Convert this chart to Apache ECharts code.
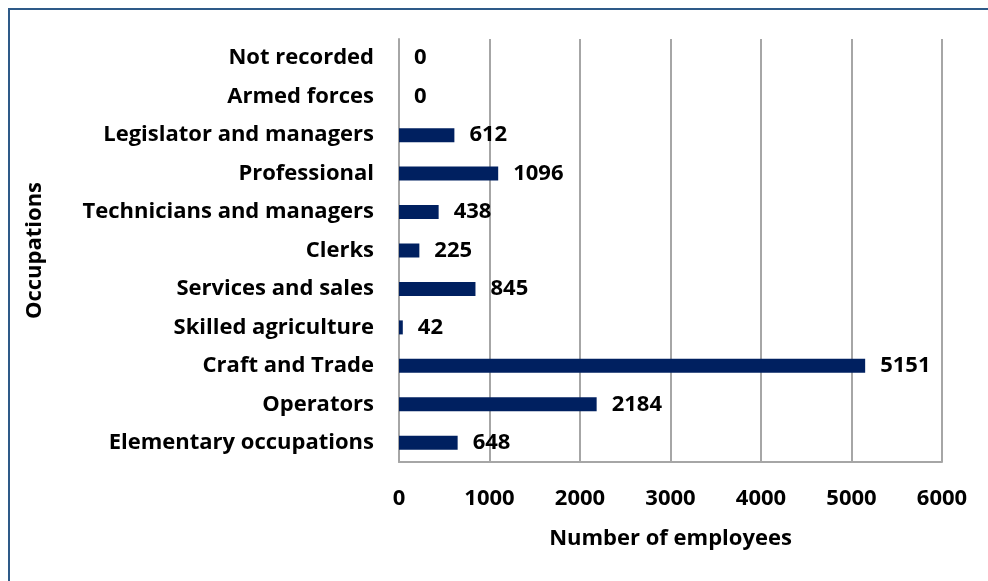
<!DOCTYPE html>
<html>
<head>
<meta charset="utf-8">
<script src="https://cdn.jsdelivr.net/npm/echarts@6/dist/echarts.min.js"></script>
<style>
  html, body { margin: 0; padding: 0; background: #fff; }
  #frame { position: absolute; left: 8px; top: 8px; width: 1200px; height: 800px;
           border-left: 2px solid #2e5a88; border-top: 2px solid #2e5a88; box-sizing: border-box; }
  #chart { position: absolute; left: 0; top: 0; width: 988px; height: 581px; }
</style>
</head>
<body>
<div id="frame"></div>
<div id="chart"></div>
<script>
// Occupations listed bottom-to-top as drawn on the category axis
const occupations = [
  'Elementary occupations', 'Operators', 'Craft and Trade', 'Skilled agriculture',
  'Services and sales', 'Clerks', 'Technicians and managers', 'Professional',
  'Legislator and managers', 'Armed forces', 'Not recorded'
];
const employees = [648, 2184, 5151, 42, 845, 225, 438, 1096, 612, 0, 0];
const xTicks = [0, 1000, 2000, 3000, 4000, 5000, 6000];

const FONT = 'Open Sans';
const SIZE = 22;
const text = { fontFamily: FONT, fontWeight: 'bold', fontSize: SIZE, color: '#000' };
const chart = echarts.init(document.getElementById('chart'), null, { renderer: 'canvas' });
chart.setOption({
  animation: false,
  backgroundColor: 'transparent',
  grid: { left: 399, right: 46, top: 39, bottom: 119, containLabel: false },
  xAxis: {
    type: 'value',
    min: xTicks[0], max: xTicks[xTicks.length - 1], interval: 1000,
    name: 'Number of employees', nameLocation: 'middle', nameGap: 66,
    nameTextStyle: text,
    axisLine: { show: true, lineStyle: { color: '#a6a6a6', width: 2 } },
    axisTick: { show: false },
    splitLine: { show: true, lineStyle: { color: '#a6a6a6', width: 2 } },
    axisLabel: Object.assign({ margin: 26, formatter: v => String(v) }, text)
  },
  yAxis: {
    type: 'category',
    data: occupations,
    name: 'Occupations', nameLocation: 'middle', nameGap: 353, nameRotate: 90,
    nameTextStyle: text,
    axisLine: { show: true, lineStyle: { color: '#a6a6a6', width: 2 } },
    axisTick: { show: false },
    axisLabel: Object.assign({ margin: 25 }, text)
  },
  series: [{
    type: 'bar',
    data: employees,
    barWidth: 14,
    itemStyle: { color: '#002060' },
    label: Object.assign({ show: true, position: 'right', distance: 15 }, text)
  }]
});
</script>
</body>
</html>
